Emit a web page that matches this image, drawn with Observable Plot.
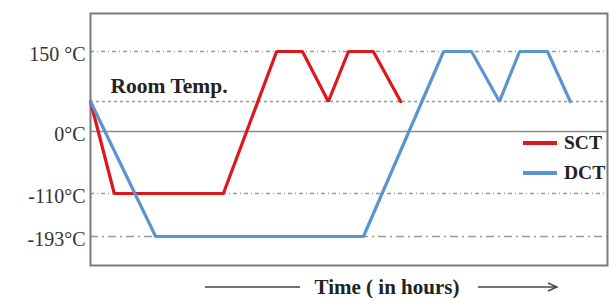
<!DOCTYPE html>
<html><head><meta charset="utf-8">
<script src="https://cdn.jsdelivr.net/npm/d3@7"></script>
<script src="https://cdn.jsdelivr.net/npm/@observablehq/plot@0.6"></script>
<style>
body{margin:0;background:#fff;}
#wrap{position:relative;width:610px;height:298px;font-family:"Liberation Serif","Times New Roman",serif;}
#wrap svg{position:absolute;left:0;top:0;overflow:visible;}
.leg{position:absolute;font-weight:bold;font-size:19.5px;color:#222;line-height:1;}
.sw{position:absolute;height:4px;width:34px;}
</style></head><body><div id="wrap"></div>
<script>
// Data
const sctTime = [0, 4.6, 25.7, 36.0, 41.0, 46.0, 49.9, 54.7, 60.0];
const sctTemp = [25, -110, -110, 150, 150, 25, 150, 150, 25];
const dctTime = [0, 12.6, 52.8, 68.3, 73.7, 79.1, 83.0, 88.4, 92.8];
const dctTemp = [25, -193, -193, 150, 150, 25, 150, 150, 25];
const tickTemps = [150, 0, -110, -193];
const tickLabels = ["150 °C", "0°C", "-110°C", "-193°C"];
const roomTemp = 25;
const seriesNames = ["SCT", "DCT"];
const seriesColors = ["#dc181d", "#5b95cf"];

const sct = sctTime.map((t, i) => ({t, v: sctTemp[i]}));
const dct = dctTime.map((t, i) => ({t, v: dctTemp[i]}));

// the original axis is not to scale: piecewise-linear temperature axis
const axisWarp = d3.scaleLinear()
  .domain([-249, -193, -110, 0, 25, 150, 245])
  .range([0, 29, 72, 134, 164, 214, 252]);

const chart = Plot.plot({
  width: 610, height: 298,
  marginLeft: 90, marginRight: 3, marginTop: 13, marginBottom: 33,
  style: {fontFamily: "'Liberation Serif','Times New Roman',serif", fontSize: "19px", background: "transparent", color: "#333"},
  x: {domain: [0, 100], axis: null},
  y: {transform: axisWarp, domain: [0, 252], axis: null},
  marks: [
    Plot.ruleY([150], {stroke: "#999", strokeWidth: 1.3, strokeDasharray: "4,3,1,3"}),
    Plot.ruleY([roomTemp], {stroke: "#999", strokeWidth: 1.3, strokeDasharray: "3,3"}),
    Plot.ruleY([0], {stroke: "#8a8a8a", strokeWidth: 1.5}),
    Plot.ruleY([-110], {stroke: "#999", strokeWidth: 1.3, strokeDasharray: "4,3,1,3"}),
    Plot.ruleY([-193], {stroke: "#999", strokeWidth: 1.3, strokeDasharray: "8,4,2,4"}),
    Plot.frame({stroke: "#7a7a7a", strokeWidth: 2}),
    Plot.line(sct, {x: "t", y: "v", stroke: seriesColors[0], strokeWidth: 3.2, strokeLinejoin: "miter"}),
    Plot.line(dct, {x: "t", y: "v", stroke: seriesColors[1], strokeWidth: 3.2, strokeLinejoin: "miter"}),
    Plot.text(tickTemps, {y: d => d, text: (d, i) => tickLabels[i], frameAnchor: "left", textAnchor: "end", dx: -5, dy: 3, fontSize: 20, fill: "#333"}),
    Plot.text(["Room Temp."], {y: () => roomTemp, frameAnchor: "left", textAnchor: "start", dx: 20, dy: -15, fontSize: 21.5, fontWeight: "bold", fill: "#222"})
  ]
});
const wrap = document.getElementById("wrap");
wrap.appendChild(chart);

// legend
const legY = [143, 173];
seriesNames.forEach((n, i) => {
  const sw = document.createElement("div");
  sw.className = "sw";
  sw.style.left = "523px"; sw.style.top = (legY[i] - 2) + "px"; sw.style.background = seriesColors[i];
  wrap.appendChild(sw);
  const t = document.createElement("div");
  t.className = "leg"; t.textContent = n;
  t.style.left = "564px"; t.style.top = (legY[i] - 10) + "px";
  wrap.appendChild(t);
});

// x-axis label with arrows
const xl = d3.select(wrap).append("svg").attr("width", 610).attr("height", 26)
  .style("top", "272px");
xl.append("line").attr("x1", 205).attr("x2", 300).attr("y1", 15).attr("y2", 15).attr("stroke", "#444").attr("stroke-width", 1.4);
xl.append("line").attr("x1", 478).attr("x2", 556).attr("y1", 15).attr("y2", 15).attr("stroke", "#444").attr("stroke-width", 1.4);
xl.append("path").attr("d", "M548,11 L557,15 L548,19").attr("fill", "none").attr("stroke", "#444").attr("stroke-width", 1.4);
xl.append("text").attr("x", 387).attr("y", 21.5).attr("text-anchor", "middle")
  .attr("font-family", "'Liberation Serif','Times New Roman',serif").attr("font-weight", "bold").attr("font-size", 21)
  .attr("fill", "#222").text("Time ( in hours)");
</script>
</body></html>
